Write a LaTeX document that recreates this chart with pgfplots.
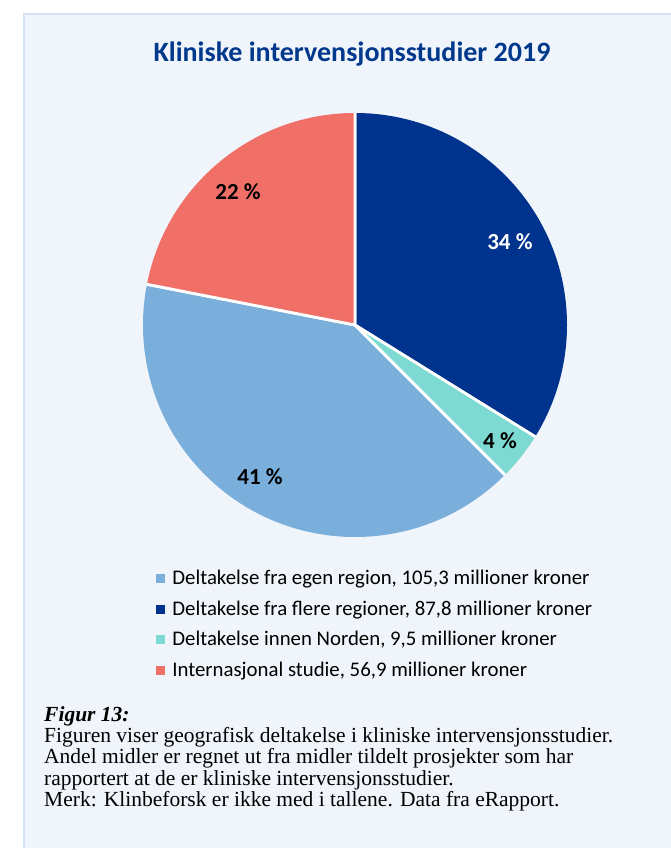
\documentclass[border=0pt]{standalone}
\usepackage{fontspec}
\setmainfont{Carlito}
\newfontfamily\capfont{Liberation Serif}
\usepackage{pgfplots}
\pgfplotsset{compat=1.18}
\usepackage{pgfplotstable}

\definecolor{egen}{RGB}{122,174,219}
\definecolor{flere}{RGB}{0,51,141}
\definecolor{norden}{RGB}{124,218,210}
\definecolor{intl}{RGB}{240,112,104}
\definecolor{titleblue}{RGB}{0,56,140}
\definecolor{bg}{RGB}{240,244,251}
\definecolor{bord}{RGB}{212,226,245}

% one row per slice: amount (mill. kr) and the running sum before it
\pgfplotstableread{
x y val cum
0 0 105.3 97.3
}\egen
\pgfplotstableread{
x y val cum
0 0 87.8 0
}\flere
\pgfplotstableread{
x y val cum
0 0 9.5 87.8
}\norden
\pgfplotstableread{
x y val cum
0 0 56.9 202.6
}\intl

% pie slice as a plot mark, angles come from visualization depends on
% filled wedge, white stroke only on the two radii
\pgfdeclareplotmark{wedge}{%
  \pgfpathmoveto{\pgfpointorigin}%
  \pgfpathlineto{\pgfpointpolar{\sa}{212pt}}%
  \pgfpatharc{\sa}{\ea}{212pt}%
  \pgfpathclose
  \pgfusepathqfill
  \pgfpathmoveto{\pgfpointpolar{\sa}{212pt}}%
  \pgfpathlineto{\pgfpointorigin}%
  \pgfpathlineto{\pgfpointpolar{\ea}{212pt}}%
  \pgfusepathqstroke}

\begin{document}
\begin{tikzpicture}
\useasboundingbox (0pt,0pt) rectangle (671pt,848pt);
\fill[bg] (24pt,0pt) rectangle (680pt,834pt);
\draw[bord,line width=1.5pt] (24pt,-5pt) -- (24pt,834pt) -- (680pt,834pt);

\node[font=\bfseries\fontsize{28}{28}\selectfont,text=titleblue] at (352pt,794pt) {Kliniske intervensjonsstudier 2019};

\begin{axis}[at={(355pt,523pt)},anchor=origin,scale only axis,width=424pt,height=424pt,
  xmin=-1,xmax=1,ymin=-1,ymax=1,hide axis,clip=false,
  pie/.style={only marks,mark=wedge,draw=white,line width=2.8pt,line join=round,
    visualization depends on={90-360*\thisrow{cum}/259.5 \as \sa},
    visualization depends on={90-360*(\thisrow{cum}+\thisrow{val})/259.5 \as \ea}},
  legend image code/.code={\path[#1,draw=none,line width=0pt,fill] (0pt,-4.5pt) rectangle (9pt,4.5pt);
    \path[draw=none,fill=none] (0pt,0pt) -- (14pt,0pt);},
  legend style={at={(axis description cs:0.024,-0.07)},anchor=north west,draw=none,fill=none,
    font=\fontsize{20.8}{20.8}\selectfont,row sep=11pt,
    cells={anchor=west,text height=14pt,text depth=4pt}}]
\addplot[pie,fill=egen] table {\egen};
\addplot[pie,fill=flere] table {\flere};
\addplot[pie,fill=norden] table {\norden};
\addplot[pie,fill=intl] table {\intl};
\legend{Deltakelse fra egen region{,} 105{,}3 millioner kroner,
  Deltakelse fra flere regioner{,} 87{,}8 millioner kroner,
  Deltakelse innen Norden{,} 9{,}5 millioner kroner,
  Internasjonal studie{,} 56{,}9 millioner kroner}
\coordinate (l34) at (axis cs:0.731,0.392);
\coordinate (l4) at (axis cs:0.684,-0.547);
\coordinate (l41) at (axis cs:-0.448,-0.717);
\coordinate (l22) at (axis cs:-0.552,0.627);
\end{axis}

\begin{scope}[font=\bfseries\fontsize{23}{23}\selectfont]
\node[text=white] at (l34) {34 \%};
\node at (l4) {4 \%};
\node at (l41) {41 \%};
\node at (l22) {22 \%};
\end{scope}

\node[anchor=north west,align=left,inner sep=0pt,font=\capfont\fontsize{21.5}{21.3}\selectfont] at (44pt,142pt)
  {\textbf{\textit{Figur 13:}}\\
   Figuren viser geografisk deltakelse i kliniske intervensjonsstudier.\\
   Andel midler er regnet ut fra midler tildelt prosjekter som har\\
   rapportert at de er kliniske intervensjonsstudier.\\
   Merk: Klinbeforsk er ikke med i tallene. Data fra eRapport.};
\end{tikzpicture}
\end{document}
